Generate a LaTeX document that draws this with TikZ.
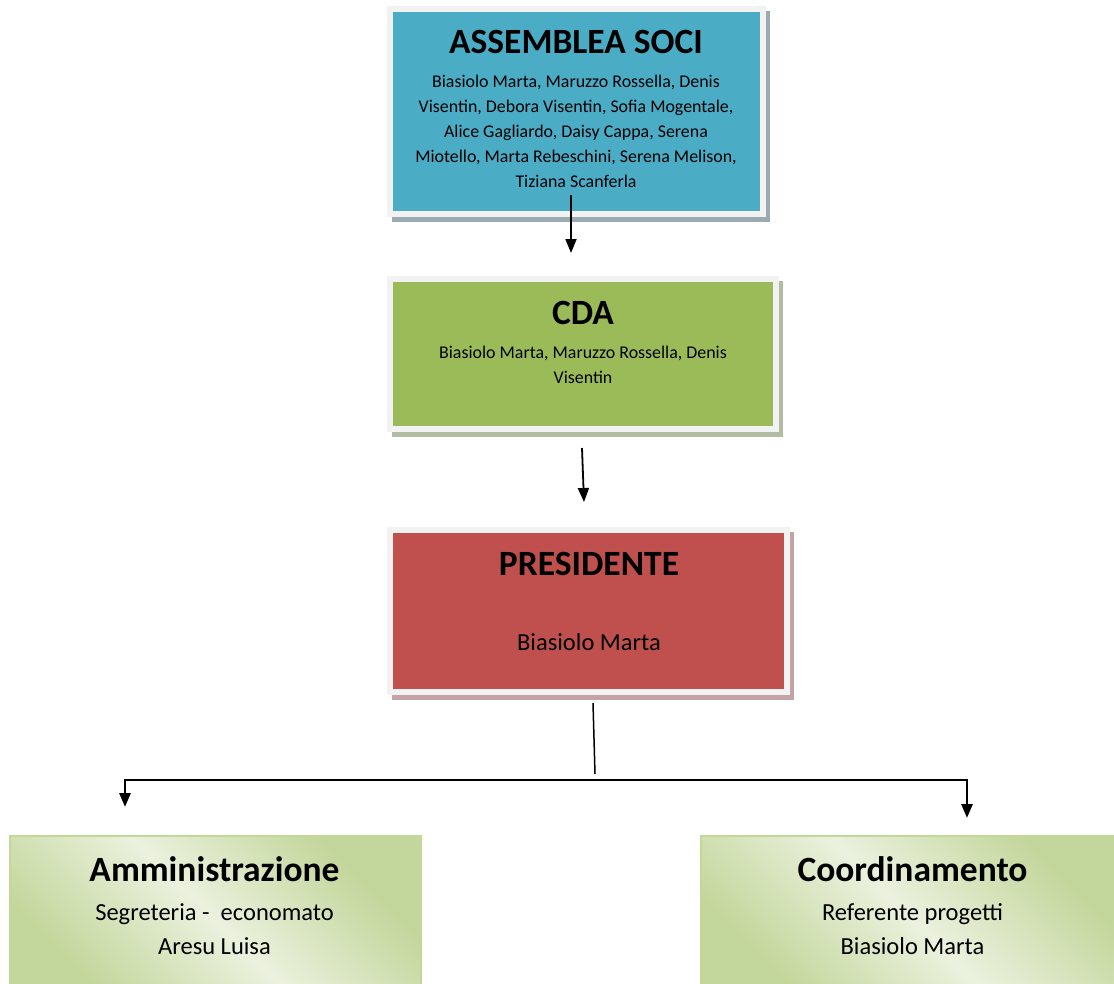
\documentclass[tikz,border=0pt]{standalone}
\usepackage{fontspec}
\setmainfont{Carlito}
\usetikzlibrary{arrows.meta}
\pgfdeclarelayer{background}
\pgfsetlayers{background,main}
\definecolor{blueF}{HTML}{4BACC6}
\definecolor{greenF}{HTML}{9BBB59}
\definecolor{redF}{HTML}{C0504D}
\definecolor{frameC}{HTML}{F2F2F2}
\definecolor{shBlue}{HTML}{9AAAB0}
\definecolor{shGreen}{HTML}{B2BCA2}
\definecolor{shRed}{HTML}{C4A2A6}
\definecolor{gDark}{HTML}{C3D69B}
\definecolor{gLight}{HTML}{EBF1DE}
\definecolor{gBorder}{HTML}{C2D898}
\pgfdeclarehorizontalshading{diagGreen}{100bp}{color(0bp)=(gDark); color(27bp)=(gDark); color(50bp)=(gLight); color(73bp)=(gDark); color(100bp)=(gDark)}
\tikzset{
  obox/.style={draw=frameC, line width=6pt, inner sep=0pt, outer sep=0pt},
  gbox/.style={draw=gBorder, line width=1.5pt, shading=diagGreen, shading angle=45, inner sep=0pt, outer sep=0pt},
  ttl/.style={font=\fontsize{35.5}{40}\selectfont\bfseries, anchor=base, inner sep=0pt},
  body/.style={font=\fontsize{17.9}{25}\selectfont, align=center, anchor=base, inner sep=0pt},
  bigbody/.style={font=\fontsize{24.5}{34}\selectfont, align=center, anchor=base, inner sep=0pt},
  arr/.style={-{Triangle[length=14pt,width=11pt]}, line width=1.8pt},
  conn/.style={line width=1.5pt},
  hconn/.style={line width=2.8pt}
}
\begin{document}
\begin{tikzpicture}[x=1pt,y=-1pt]
\useasboundingbox (0,0) rectangle (1114,983);
% boxes
\node[obox, fill=blueF, minimum width=373pt, minimum height=205pt] (as) at (576.5,111.5) {};
\node[obox, fill=greenF, minimum width=386pt, minimum height=150pt] (cda) at (583,354) {};
\node[obox, fill=redF, minimum width=397pt, minimum height=162pt] (pres) at (588.5,611) {};
\node[gbox, minimum width=411pt, minimum height=170pt] (admin) at (215.5,921) {};
\node[gbox, minimum width=429pt, minimum height=170pt] (coord) at (915.5,921) {};
\begin{pgfonlayer}{background}
  \fill[shBlue] ([shift={(2pt,-8pt)}]as.south west) rectangle ([shift={(7pt,-2pt)}]as.north east);
  \fill[shGreen] ([shift={(2pt,-8pt)}]cda.south west) rectangle ([shift={(7pt,-2pt)}]cda.north east);
  \fill[shRed] ([shift={(2pt,-8pt)}]pres.south west) rectangle ([shift={(7pt,-2pt)}]pres.north east);
\end{pgfonlayer}
% texts (multi-line nodes: base = last line)
\node[ttl] (asT) at (576,53) {ASSEMBLEA SOCI};
\node[body] (asB) at (576,187) {Biasiolo Marta, Maruzzo Rossella, Denis\\Visentin, Debora Visentin, Sofia Mogentale,\\Alice Gagliardo, Daisy Cappa, Serena\\Miotello, Marta Rebeschini, Serena Melison,\\Tiziana Scanferla};
\node[ttl] (cdaT) at (583,324) {CDA};
\node[body] (cdaB) at (583,383) {Biasiolo Marta, Maruzzo Rossella, Denis\\Visentin};
\node[ttl] (presT) at (589,575) {PRESIDENTE};
\node[bigbody] (presB) at (589,650) {Biasiolo Marta};
\node[ttl] (adminT) at (214.5,881) {Amministrazione};
\node[bigbody] (adminB) at (214.5,954) {Segreteria -\ \ economato\\Aresu Luisa};
\node[ttl] (coordT) at (912.5,881) {Coordinamento};
\node[bigbody] (coordB) at (912.5,954) {Referente progetti\\Biasiolo Marta};
% connectors
\draw[arr] ([xshift=-5.5pt,yshift=19pt]as.south) -- ([xshift=-12pt,yshift=26pt]cda.north);
\draw[arr] ([xshift=-1pt,yshift=-19pt]cda.south) -- ([xshift=-4.5pt,yshift=28pt]pres.north);
\coordinate (jn) at (595,774);
\coordinate (bar) at (595,780);
\draw[conn] ([xshift=4.5pt,yshift=-11pt]pres.south) -- (jn);
\draw[arr, hconn, shorten >=29pt] (bar) -| ([xshift=-90.5pt]admin.north);
\draw[arr, hconn, shorten >=18pt] (bar) -| ([xshift=51.5pt]coord.north);
\end{tikzpicture}
\end{document}
